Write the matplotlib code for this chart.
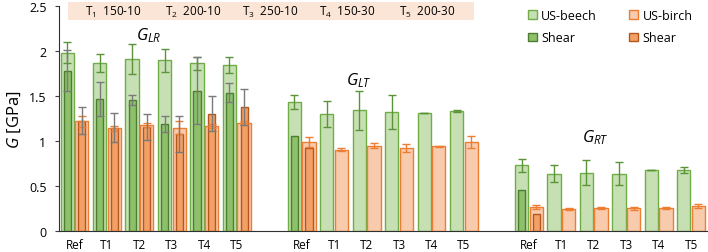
import numpy as np
import matplotlib
matplotlib.use("Agg")
import matplotlib.pyplot as plt
from matplotlib.patches import Patch, Rectangle

plt.rcParams['font.family'] = ['Open Sans', 'DejaVu Sans']
plt.rcParams['mathtext.fontset'] = 'custom'
plt.rcParams['mathtext.rm'] = 'Open Sans'
plt.rcParams['mathtext.it'] = 'Open Sans:italic'

categories = ['Ref', 'T1', 'T2', 'T3', 'T4', 'T5']
groups = ['LR', 'LT', 'RT']
treatments = ['T$_1$  150-10', 'T$_2$  200-10', 'T$_3$  250-10', 'T$_4$  150-30', 'T$_5$  200-30']

us_beech_LR = [1.98, 1.865, 1.91, 1.895, 1.86, 1.84]
us_beech_LT = [1.43, 1.30, 1.34, 1.32, 1.31, 1.33]
us_beech_RT = [0.73, 0.64, 0.65, 0.64, 0.68, 0.68]
us_beech_err_LR = [0.12, 0.10, 0.17, 0.13, 0.07, 0.09]
us_beech_err_LT = [0.075, 0.145, 0.215, 0.19, 0.0, 0.01]
us_beech_err_RT = [0.07, 0.09, 0.14, 0.125, 0.0, 0.03]

us_birch_LR = [1.22, 1.14, 1.18, 1.15, 1.17, 1.20]
us_birch_LT = [0.99, 0.905, 0.95, 0.925, 0.94, 0.99]
us_birch_RT = [0.27, 0.25, 0.26, 0.255, 0.26, 0.28]
us_birch_err_LR = [0.06, 0.03, 0.02, 0.07, 0.02, 0.02]
us_birch_err_LT = [0.055, 0.02, 0.03, 0.045, 0.005, 0.07]
us_birch_err_RT = [0.025, 0.01, 0.008, 0.015, 0.008, 0.02]

shear_beech_LR = [1.78, 1.465, 1.45, 1.19, 1.56, 1.535]
shear_beech_err_LR = [0.23, 0.19, 0.055, 0.09, 0.37, 0.105]
shear_beech_LT = [1.055, np.nan, np.nan, np.nan, np.nan, np.nan]
shear_beech_RT = [0.46, np.nan, np.nan, np.nan, np.nan, np.nan]

shear_birch_LR = [1.225, 1.15, 1.16, 1.075, 1.305, 1.375]
shear_birch_err_LR = [0.15, 0.16, 0.145, 0.20, 0.195, 0.20]
shear_birch_LT = [0.92, np.nan, np.nan, np.nan, np.nan, np.nan]
shear_birch_RT = [0.19, np.nan, np.nan, np.nan, np.nan, np.nan]

us_beech = [us_beech_LR, us_beech_LT, us_beech_RT]
us_beech_err = [us_beech_err_LR, us_beech_err_LT, us_beech_err_RT]
us_birch = [us_birch_LR, us_birch_LT, us_birch_RT]
us_birch_err = [us_birch_err_LR, us_birch_err_LT, us_birch_err_RT]
shear_beech = [shear_beech_LR, shear_beech_LT, shear_beech_RT]
shear_beech_err = [shear_beech_err_LR, [0]*6, [0]*6]
shear_birch = [shear_birch_LR, shear_birch_LT, shear_birch_RT]
shear_birch_err = [shear_birch_err_LR, [0]*6, [0]*6]

c_lg_fill, c_lg_edge = '#C6E0B4', '#70AD47'
c_dg_fill, c_dg_edge = '#8CC16A', '#4F7D30'
c_lo_fill, c_lo_edge = '#F8CBAD', '#ED7D31'
c_do_fill, c_do_edge = '#F2A066', '#B5561C'
c_gray = '#7A7A7A'
c_green_err = '#5B9339'

fig = plt.figure(figsize=(7.08, 2.53), dpi=100)
ax = fig.add_axes([59/708, 0.0818, 1 - 59/708, 0.9735 - 0.0818])

W = 0.41
WS = 0.22
OFF = 0.225
ekw = dict(fmt='none', capsize=2.8, elinewidth=1.0, capthick=1.0)

ticks, ticklabels = [], []
for g in range(3):
    pos = np.arange(6) + 7 * g
    ticks += list(pos)
    ticklabels += categories
    xb = pos - OFF
    xo = pos + OFF
    ax.bar(xb, us_beech[g], W, color=c_lg_fill, edgecolor='none', zorder=2)
    ax.bar(xo, us_birch[g], W, color=c_lo_fill, edgecolor='none', zorder=2)
    ax.bar(xb, shear_beech[g], WS, color=c_dg_fill, edgecolor=c_dg_edge, linewidth=1.0, zorder=3)
    ax.bar(xo, shear_birch[g], WS, color=c_do_fill, edgecolor=c_do_edge, linewidth=1.0, zorder=3)
    ax.bar(xb, us_beech[g], W, color='none', edgecolor=c_lg_edge, linewidth=1.0, zorder=4)
    ax.bar(xo, us_birch[g], W, color='none', edgecolor=c_lo_edge, linewidth=1.0, zorder=4)
    ax.errorbar(xb, us_beech[g], yerr=us_beech_err[g], ecolor=c_green_err, zorder=5, **ekw)
    ax.errorbar(xo, us_birch[g], yerr=us_birch_err[g], ecolor=c_lo_edge, zorder=5, **ekw)
    if g == 0:
        ax.errorbar(xb, shear_beech[g], yerr=shear_beech_err[g], ecolor=c_gray, zorder=6, **ekw)
        ax.errorbar(xo, shear_birch[g], yerr=shear_birch_err[g], ecolor=c_gray, zorder=6, **ekw)

ax.set_xlim(-0.478, 19.52)
ax.set_ylim(0, 2.5)
ax.set_yticks([0, 0.5, 1, 1.5, 2, 2.5])
ax.set_yticklabels(['0', '0.5', '1', '1.5', '2', '2.5'])
ax.set_xticks(ticks)
ax.set_xticklabels(ticklabels)
ax.tick_params(axis='x', length=0, pad=5, labelsize=8.5)
ax.tick_params(axis='y', length=3, width=0.8, pad=6, labelsize=9, color='#404040')
for s in ['top', 'right']:
    ax.spines[s].set_visible(False)
ax.spines['left'].set_color('#303030')
ax.spines['bottom'].set_color('#303030')
ax.spines['left'].set_linewidth(0.8)
ax.spines['bottom'].set_linewidth(0.8)

ax.set_ylabel('$G$ [GPa]', fontsize=12, labelpad=4)

ax.text(2.3, 2.18, '$G_{LR}$', fontsize=12, ha='center', va='center')
ax.text(8.75, 1.68, '$G_{LT}$', fontsize=12, ha='center', va='center')
ax.text(16.05, 1.05, '$G_{RT}$', fontsize=12, ha='center', va='center')

ax.add_patch(Rectangle((-0.2, 2.338), 12.51, 0.2, facecolor='#FBE5D6', edgecolor='none',
                       clip_on=False, zorder=1))
for t, xc in zip(treatments, [1.19, 3.65, 6.03, 8.40, 10.86]):
    ax.text(xc, 2.435, t, fontsize=8.5, ha='center', va='center', zorder=2)

handles = [Patch(facecolor=c_lg_fill, edgecolor=c_lg_edge, linewidth=1.0),
           Patch(facecolor=c_dg_fill, edgecolor=c_dg_edge, linewidth=1.0),
           Patch(facecolor=c_lo_fill, edgecolor=c_lo_edge, linewidth=1.0),
           Patch(facecolor=c_do_fill, edgecolor=c_do_edge, linewidth=1.0)]
labels = ['US-beech', 'Shear', 'US-birch', 'Shear']
fig.legend(handles, labels, ncol=2, loc='upper left', bbox_to_anchor=(518/708, 1.0),
           frameon=False, fontsize=9, handlelength=0.7, handleheight=0.7,
           handletextpad=0.35, columnspacing=2.6, labelspacing=0.75, borderpad=0.3)

fig.savefig('out.png', dpi=100)
